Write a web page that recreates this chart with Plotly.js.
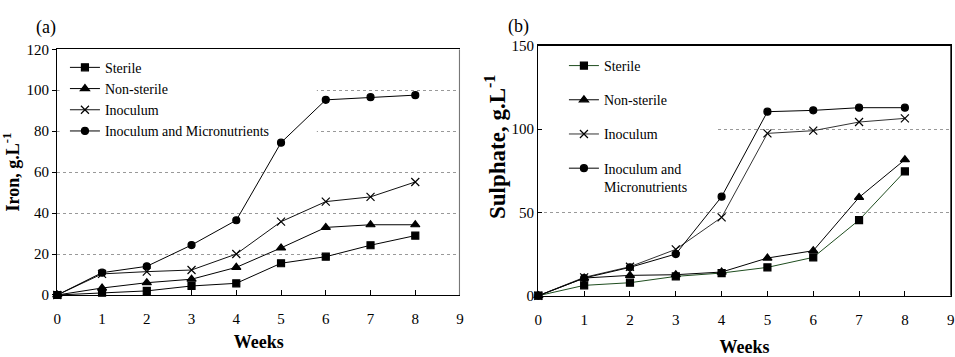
<!DOCTYPE html>
<html>
<head>
<meta charset="utf-8">
<script src="https://cdn.plot.ly/plotly-3.0.1.min.js"></script>
<style>html,body{margin:0;padding:0;background:#fff;}#chart{width:955px;height:357px;}</style>
</head>
<body>
<div id="chart"></div>
<script>
// ---- data ----
const weeks = [0, 1, 2, 3, 4, 5, 6, 7, 8];
const seriesNames = ["Sterile", "Non-sterile", "Inoculum", "Inoculum and Micronutrients"];
const seriesNamesB = ["Sterile", "Non-sterile", "Inoculum", "Inoculum and<br>Micronutrients"];

const ironSterile     = [0, 1.1, 2.0, 4.4, 5.7, 15.5, 18.7, 24.3, 29.0];
const ironNonSterile  = [0, 3.4, 6.0, 7.7, 13.5, 23.0, 33.0, 34.3, 34.3];
const ironInoculum    = [0, 10.3, 11.4, 12.2, 20.0, 35.8, 45.6, 47.9, 55.2];
const ironInocMicro   = [0, 10.9, 14.0, 24.4, 36.5, 74.4, 95.3, 96.6, 97.6];

const sulSterile      = [0, 6.2, 7.8, 11.6, 13.6, 17.0, 23.0, 45.4, 74.6];
const sulNonSterile   = [0, 10.6, 12.2, 12.6, 14.2, 22.6, 27.0, 59.0, 81.6];
const sulInoculum     = [0, 11.0, 17.4, 27.8, 47.0, 97.4, 99.0, 104.2, 106.4];
const sulInocMicro    = [0, 10.6, 17.0, 25.0, 59.4, 110.4, 111.2, 112.8, 112.8];

const xTicks = [0, 1, 2, 3, 4, 5, 6, 7, 8, 9];
const ironTicks = [0, 20, 40, 60, 80, 100, 120];
const sulTicks = [0, 50, 100, 150];

// ---- styles ----
const FONT = "'Liberation Serif', 'Times New Roman', serif";
const symbols = ["square", "triangle-up", "x-thin-open", "circle"];
const msizes = [7, 8, 8, 7];
const lineColA = ["#000", "#000", "#111", "#000"];
const lineColB = ["#1f4d1f", "#000", "#333", "#000"];

const ironData = [ironSterile, ironNonSterile, ironInoculum, ironInocMicro];
const sulData = [sulSterile, sulNonSterile, sulInoculum, sulInocMicro];

const traces = [];
ironData.forEach((ys, i) => {
  traces.push({
    x: weeks, y: ys, type: "scatter", mode: "lines+markers",
    name: seriesNames[i], xaxis: "x", yaxis: "y", legend: "legend",
    legendgroup: "a" + i,
    line: {color: lineColA[i], width: 1},
    marker: {symbol: symbols[i], size: msizes[i], color: "#000", line: {color: "#000", width: 1.2}},
    cliponaxis: false
  });
});
sulData.forEach((ys, i) => {
  traces.push({
    x: weeks, y: ys, type: "scatter", mode: "lines+markers",
    name: seriesNamesB[i], xaxis: "x2", yaxis: "y2", legend: "legend2",
    legendgroup: "b" + i,
    line: {color: lineColB[i], width: 1},
    marker: {symbol: symbols[i], size: msizes[i], color: "#000", line: {color: "#000", width: 1.2}},
    cliponaxis: false
  });
});

const tickFont = {family: FONT, size: 15, color: "#000"};
const titleFont = {family: FONT, size: 18, color: "#000", weight: "bold"};

function xAxis(domain, standoff) {
  return {
    domain: domain, range: [0, 9], tickvals: xTicks, ticktext: xTicks.map(String),
    showgrid: false, zeroline: false, showline: true, linecolor: "#000", linewidth: 1.3,
    mirror: true, ticks: "inside", ticklen: 5, tickcolor: "#000",
    tickfont: tickFont, ticklabelstandoff: 10, ticklabeloverflow: "allow",
    title: {text: "Weeks", font: titleFont, standoff: standoff},
    fixedrange: true
  };
}
function yAxis(domain, range, ticks, title, anchor, tickdir) {
  const ax = {
    domain: domain, range: range, tickvals: ticks, ticktext: ticks.map(String),
    showgrid: true, gridcolor: "#999", griddash: "3px,3px", gridwidth: 1,
    zeroline: false, showline: true, linecolor: "#000", linewidth: 1.3,
    ticks: tickdir, ticklen: 4, tickcolor: "#000",
    tickfont: tickFont, anchor: anchor, ticklabeloverflow: "allow",
    fixedrange: true
  };
  if (title) ax.title = {text: title, font: titleFont, standoff: 14};
  return ax;
}

const layout = {
  width: 955, height: 357,
  margin: {l: 0, r: 0, t: 0, b: 0},
  paper_bgcolor: "#fff", plot_bgcolor: "#fff",
  font: {family: FONT, color: "#000"},
  showlegend: true,
  xaxis: Object.assign(xAxis([0.060, 0.4817], 9), {anchor: "y"}),
  yaxis: yAxis([0.1737, 0.862], [0, 120], ironTicks, "Iron, g.L<sup>-1</sup>", "x", "outside"),
  xaxis2: Object.assign(xAxis([0.5637, 0.9955], 17), {anchor: "y2"}),
  yaxis2: Object.assign(yAxis([0.1717, 0.872], [0, 150], sulTicks, null, "x2", "inside"), {mirror: true}),
  legend: {
    x: 0.068, y: 0.855, xanchor: "left", yanchor: "top",
    bgcolor: "rgba(0,0,0,0)", borderwidth: 0,
    font: {family: FONT, size: 14, color: "#000"},
    traceorder: "normal", itemwidth: 30, tracegroupgap: 0
  },
  legend2: {
    x: 0.5905, y: 0.86, xanchor: "left", yanchor: "top",
    bgcolor: "rgba(0,0,0,0)", borderwidth: 0,
    font: {family: FONT, size: 14, color: "#000"},
    traceorder: "grouped", itemwidth: 30, tracegroupgap: 13, valign: "top"
  },
  shapes: [
    {type: "rect", xref: "x", yref: "y", x0: 0.05, x1: 5.8, y0: 70, y1: 110,
     fillcolor: "#fff", line: {width: 0}, layer: "between"},
    {type: "rect", xref: "x2", yref: "y2", x0: 0.05, x1: 3.9, y0: 75, y1: 125,
     fillcolor: "#fff", line: {width: 0}, layer: "between"},
    {type: "line", xref: "x", yref: "y", x0: 9, x1: 9, y0: 0, y1: 120,
     line: {color: "#777", width: 2.2}, layer: "above"},
    {type: "line", xref: "x2", yref: "y2", x0: 9, x1: 9, y0: 0, y1: 150,
     line: {color: "#000", width: 1.3}, layer: "above"}
  ],
  annotations: [
    {text: "(a)", xref: "paper", yref: "paper", x: 34 / 955, y: 1 - 15 / 357,
     showarrow: false, font: {family: FONT, size: 18, color: "#000"}},
    {text: "(b)", xref: "paper", yref: "paper", x: 518 / 955, y: 1 - 14 / 357,
     showarrow: false, font: {family: FONT, size: 18, color: "#000"}},
    {text: "Sulphate, g.L<sup>-1</sup>", xref: "paper", yref: "paper",
     x: 495 / 955, y: 1 - 147 / 357, textangle: -90, showarrow: false,
     font: {family: FONT, size: 23, color: "#000", weight: "bold"}}
  ]
};

Plotly.newPlot("chart", traces, layout, {displayModeBar: false, staticPlot: true});
</script>
</body>
</html>
